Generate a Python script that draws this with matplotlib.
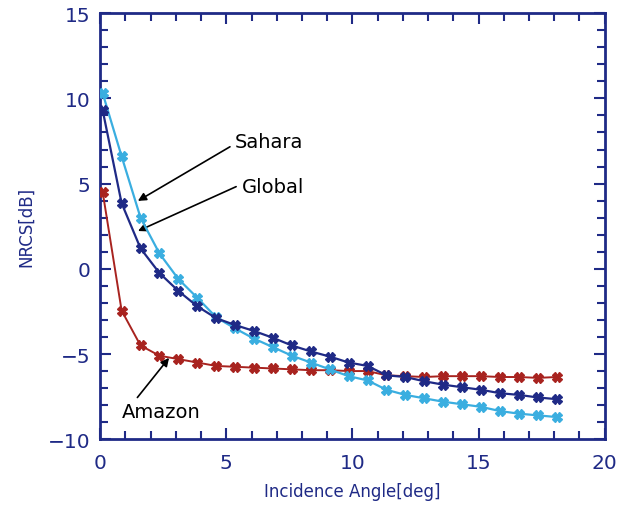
import matplotlib.pyplot as plt
import numpy as np
from matplotlib.ticker import MultipleLocator

# incidence angles, every 0.75 deg
angle = [0.1 + 0.75 * i for i in range(25)]

sahara = [10.3, 6.6, 3.0, 0.9, -0.6, -1.7, -2.85, -3.5, -4.1, -4.6, -5.1, -5.5,
          -5.9, -6.3, -6.55, -7.1, -7.4, -7.6, -7.8, -7.95, -8.1, -8.35, -8.5, -8.6, -8.7]
glob = [9.3, 3.85, 1.2, -0.25, -1.3, -2.2, -2.9, -3.3, -3.65, -4.05, -4.5, -4.85,
        -5.15, -5.5, -5.7, -6.25, -6.35, -6.6, -6.8, -6.95, -7.1, -7.3, -7.4, -7.55, -7.65]
amazon = [4.5, -2.45, -4.5, -5.1, -5.3, -5.5, -5.7, -5.75, -5.8, -5.85, -5.9, -5.95,
          -5.95, -6.0, -6.0, -6.25, -6.3, -6.35, -6.3, -6.3, -6.3, -6.35, -6.35, -6.4, -6.35]

navy = '#1f2a86'
light = '#3aaee0'
red = '#a8231f'

fig = plt.figure(figsize=(6.26, 5.06), dpi=100)
ax = fig.add_axes([0.16, 0.13, 0.806, 0.842])

ax.plot(angle, amazon, color=red, lw=1.4, marker='X', ms=7, zorder=3)
ax.plot(angle, sahara, color=light, lw=1.6, marker='X', ms=7, zorder=4)
ax.plot(angle, glob, color=navy, lw=1.6, marker='X', ms=7, zorder=5)

ax.set_xlim(0, 20)
ax.set_ylim(-10, 15)
ax.xaxis.set_major_locator(MultipleLocator(5))
ax.xaxis.set_minor_locator(MultipleLocator(1))
ax.yaxis.set_major_locator(MultipleLocator(5))
ax.yaxis.set_minor_locator(MultipleLocator(1))
ax.tick_params(which='both', direction='in', top=True, right=True, color=navy,
               labelcolor=navy, labelsize=14.5, width=1.5)
ax.tick_params(which='major', length=8)
ax.tick_params(which='minor', length=6)
ax.tick_params(axis='x', pad=10)
ax.tick_params(axis='y', pad=7)
for s in ax.spines.values():
    s.set_color(navy)
    s.set_linewidth(2)

ax.set_xlabel('Incidence Angle[deg]', color=navy, fontsize=12, labelpad=7)
ax.set_ylabel('NRCS[dB]', color=navy, fontsize=12, labelpad=9)

ax.annotate('Sahara', xy=(1.4, 3.9), xytext=(5.35, 7.45), fontsize=14,
            va='center', ha='left',
            arrowprops=dict(arrowstyle='-|>', color='black', lw=1.2,
                            mutation_scale=12, relpos=(0, 0.4)))
ax.annotate('Global', xy=(1.4, 2.15), xytext=(5.6, 4.85), fontsize=14,
            va='center', ha='left',
            arrowprops=dict(arrowstyle='-|>', color='black', lw=1.2,
                            mutation_scale=12, relpos=(0, 0.6)))
ax.annotate('Amazon', xy=(2.8, -5.1), xytext=(0.85, -8.4), fontsize=14,
            va='center', ha='left',
            arrowprops=dict(arrowstyle='-|>', color='black', lw=1.2,
                            mutation_scale=12, relpos=(0.15, 1.0)))

fig.savefig('out.png', dpi=100)
